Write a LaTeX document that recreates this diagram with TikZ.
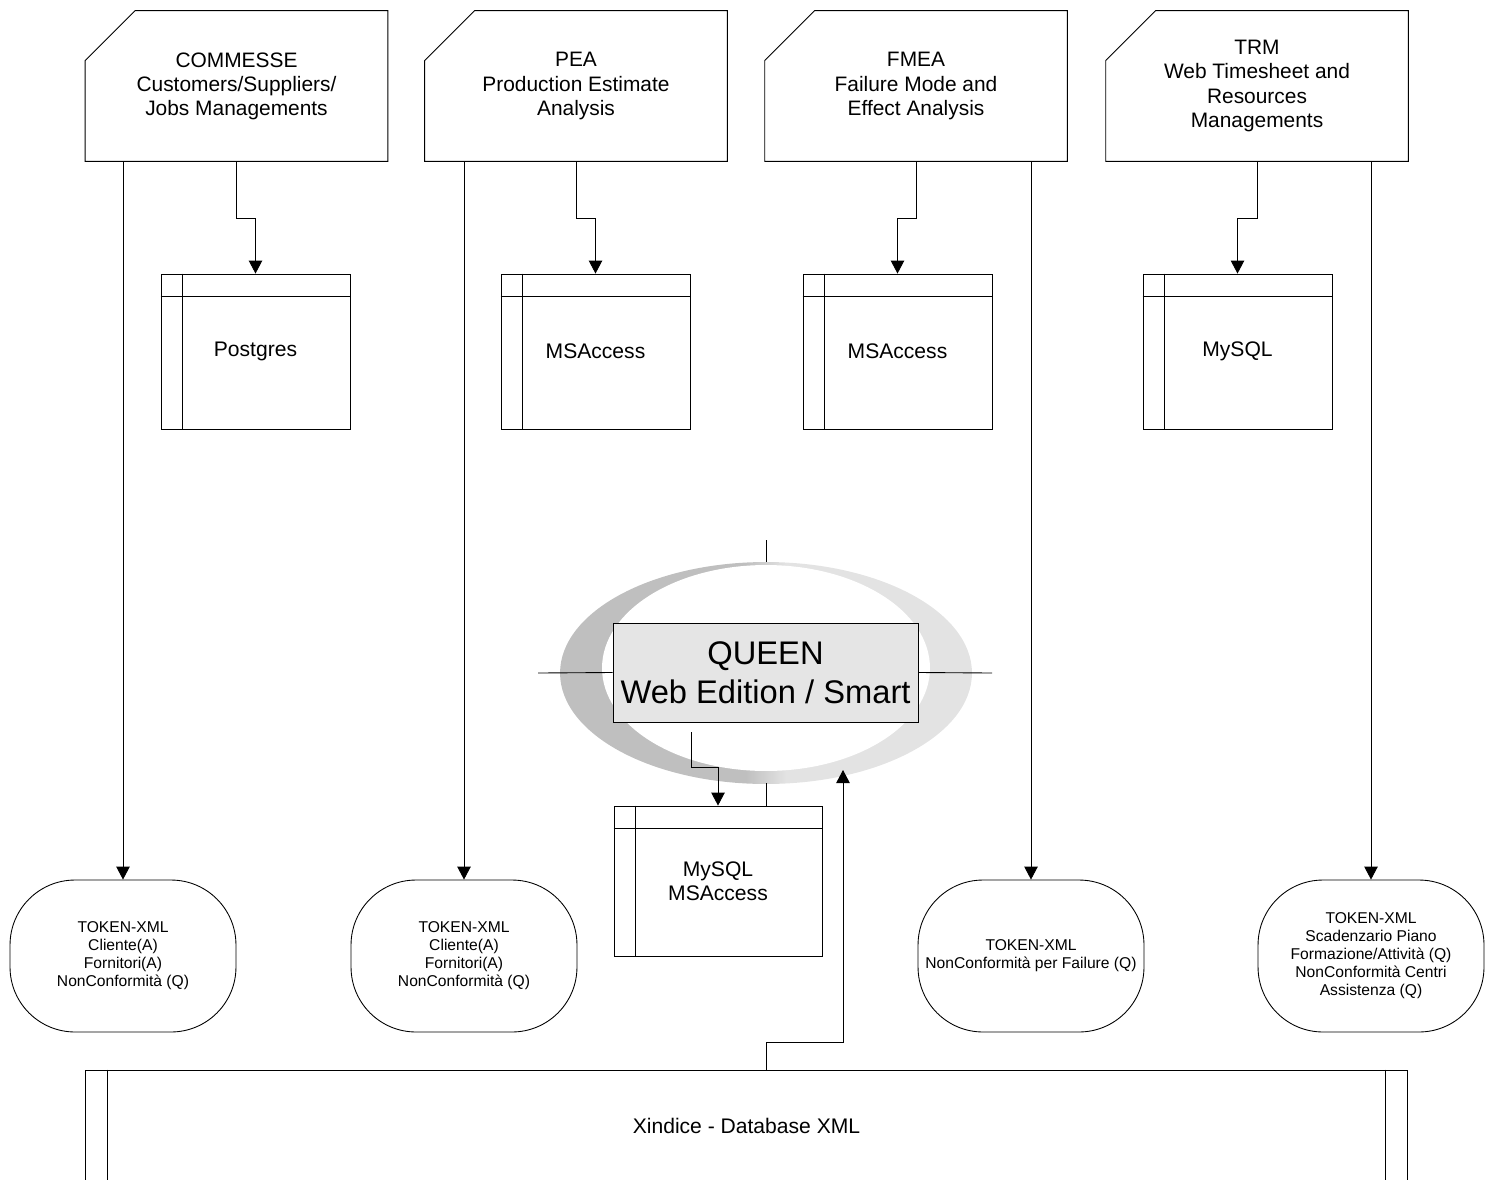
\documentclass[tikz,border=0pt]{standalone}
\usepackage{fontspec}
\setmainfont{Liberation Sans}
\usetikzlibrary{arrows.meta}

\tikzset{
edge/.style={line width=0.5pt},
link/.style={line width=0.5pt, -{Triangle[length=0.26cm,width=0.27cm]}},
app/.style={minimum width=6.04cm, minimum height=3cm, inner sep=0pt, align=center, font=\fontsize{11.9}{13.7}\selectfont},
dbtable/.style={draw, line width=0.5pt, minimum width=3.78cm, minimum height=3.1cm, inner sep=0pt, align=center, font=\fontsize{12}{13.8}\selectfont},
token/.style={draw, line width=0.5pt, rounded corners=1.3cm, minimum width=4.52cm, minimum height=3.04cm, inner sep=0pt, align=center, font=\fontsize{8.9}{10.24}\selectfont},
}

\begin{document}
\begin{tikzpicture}[%
x=0.02cm, y=-0.02cm,
]
\useasboundingbox (0,0) rectangle (1486,1179);
%% applications;
\node[app] (app1) at (236.5,86) {COMMESSE\\Customers/Suppliers/\\Jobs Managements};
\node[app] (app2) at (576,86) {PEA\\Production Estimate\\Analysis};
\node[app] (app3) at (916,86) {FMEA\\Failure Mode and\\Effect Analysis};
\node[app] (app4) at (1257,86) {TRM\\Web Timesheet and\\Resources\\Managements};
\foreach \n in {app1,app2,app3,app4}
  \draw[edge] ([xshift=1cm]\n.north west) -- (\n.north east) -- (\n.south east)
    -- (\n.south west) -- ([yshift=-1cm]\n.north west) -- cycle;
%% databases;
\node[dbtable] (db1) at (255.5,351.5) {Postgres};
\node[dbtable] (db2) at (595.5,351.5) {MSAccess};
\node[dbtable] (db3) at (897.5,351.5) {MSAccess};
\node[dbtable] (db4) at (1237.5,351.5) {MySQL};
%% tokens;
\node[token] (tk1) at (123,956) {TOKEN-XML\\Cliente(A)\\Fornitori(A)\\NonConformità (Q)};
\node[token] (tk2) at (464,956) {TOKEN-XML\\Cliente(A)\\Fornitori(A)\\NonConformità (Q)};
\node[token] (tk3) at (1031,956) {TOKEN-XML\\NonConformità per Failure (Q)};
\node[token] (tk4) at (1371,956) {TOKEN-XML\\Scadenzario Piano\\Formazione/Attività (Q)\\NonConformità Centri\\Assistenza (Q)};
%% ring;
\begin{scope}
\clip (766,673) ellipse [x radius=4.12cm, y radius=2.22cm];
\fill[black!25] (550,550) rectangle (746,800);
\shade[left color=black!25, right color=black!11] (746,550) rectangle (786,800);
\fill[black!11] (786,550) rectangle (980,800);
\end{scope}
\fill[white] (766,668) ellipse [x radius=3.28cm, y radius=2.06cm];
%% queen;
\node[draw, line width=0.5pt, fill=black!10, minimum width=6.1cm, minimum height=1.98cm, inner sep=0pt,
  align=center, font=\fontsize{18.6}{22.1}\selectfont] (queen) at (765.5,672.5) {QUEEN\\Web Edition / Smart};
\node[dbtable, minimum width=4.16cm, minimum height=3cm] (dbq) at (718,881) {MySQL\\MSAccess};
\coordinate (ringtop) at (766,540);
\coordinate (ringbot) at (766,783);
\coordinate (ringleft) at (538,673);
\coordinate (ringright) at (992,673);
\coordinate (ringin) at (843,770);
\draw[edge] (ringtop) -- ++(0,22);
\draw[edge] (ringleft) -- (queen.west);
\draw[edge] (queen.east) -- (ringright);
\draw[edge] (ringbot) -- (ringbot |- dbq.north);
%% xindice;
\node[draw, line width=0.5pt, minimum width=26.46cm, minimum height=2.24cm, inner sep=0pt,
  font=\fontsize{12}{13.8}\selectfont] (xml) at (746.5,1126) {Xindice - Database XML};
\draw[edge] ([xshift=0.46cm]xml.north west) -- ([xshift=0.46cm]xml.south west);
\draw[edge] ([xshift=-0.46cm]xml.north east) -- ([xshift=-0.46cm]xml.south east);
%% table rulings;
\foreach \n in {db1,db2,db3,db4,dbq} {
  \draw[edge] ([xshift=0.44cm]\n.north west) -- ([xshift=0.44cm]\n.south west);
  \draw[edge] ([yshift=-0.45cm]\n.north west) -- ([yshift=-0.45cm]\n.north east);
}
%% links;
\draw[link] (app1.south -| tk1.north) -- (tk1.north);
\draw[link] (app2.south -| tk2.north) -- (tk2.north);
\draw[link] (app3.south -| tk3.north) -- (tk3.north);
\draw[link] (app4.south -| tk4.north) -- (tk4.north);
\draw[link] (app1.south) -- ++(0,57) -| (db1.north);
\draw[link] (app2.south) -- ++(0,57) -| (db2.north);
\draw[link] (app3.south) -- ++(0,57) -| (db3.north);
\draw[link] (app4.south) -- ++(0,57) -| (db4.north);
\draw[link] ([xshift=-1.49cm,yshift=-0.2cm]queen.south) -- ++(0,35) -| (dbq.north);
\draw[link] ([xshift=0.39cm]xml.north) -- ++(0,-27) -| (ringin);
\end{tikzpicture}
\end{document}
